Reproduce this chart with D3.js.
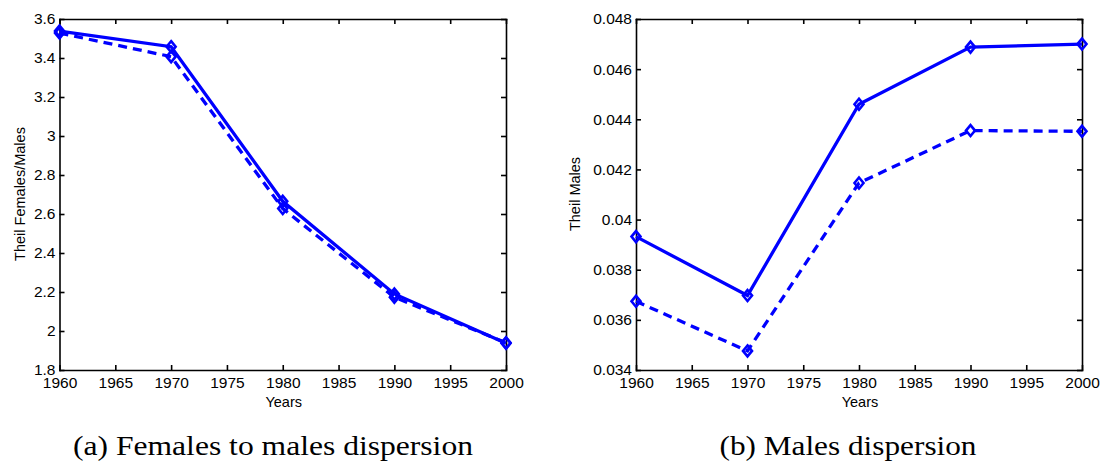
<!DOCTYPE html>
<meta charset="utf-8">
<style>
body { margin: 0; background: #fff; }
svg { display: block; }
.tick text { font-family: 'Liberation Sans', Arial, sans-serif; font-size: 15.5px; fill: #000; }
.axis path, .axis line { stroke: #000; stroke-width: 1.6; }
.lab { font-family: 'Liberation Sans', Arial, sans-serif; font-size: 14.5px; }
.cap { font-family: 'Liberation Serif', 'DejaVu Serif', serif; font-size: 28px; }
.series { fill: none; stroke: #0000ff; stroke-width: 3.3; }
.mark { fill: none; stroke: #0000ff; stroke-width: 2.6; }
</style>
<body>
<div id="chart"></div>
<script src="https://cdn.jsdelivr.net/npm/d3@7"></script>
<script>
var years = [1960, 1970, 1980, 1990, 2000];
var xTicks = [1960, 1965, 1970, 1975, 1980, 1985, 1990, 1995, 2000];

// (a) females to males
var femSolid = [3.538, 3.458, 2.665, 2.19, 1.937];
var femDash = [3.528, 3.407, 2.628, 2.173, 1.94];
var femTicks = [1.8, 2, 2.2, 2.4, 2.6, 2.8, 3, 3.2, 3.4, 3.6];

// (b) males
var maleSolid = [0.03932, 0.03697, 0.04460, 0.04688, 0.04700];
var maleDash = [0.03674, 0.03476, 0.04146, 0.04355, 0.04352];
var maleTicks = [0.034, 0.036, 0.038, 0.04, 0.042, 0.044, 0.046, 0.048];

var svg = d3.select('#chart')
            .append('svg')
            .attr('width', 1102)
            .attr('height', 464)

function panel(opt) {
  var x = d3.scaleLinear().domain([1960, 2000]).range([opt.left, opt.right]);
  var y = d3.scaleLinear().domain(opt.ydom).range([370, 19]);
  var g = svg.append('g');

  g.append('g').attr('class', 'axis')
    .attr('transform', 'translate(0,370)')
    .call(d3.axisBottom(x).tickValues(xTicks).tickFormat(d3.format('d'))
      .tickSizeInner(-5).tickSizeOuter(0).tickPadding(7));
  g.append('g').attr('class', 'axis')
    .attr('transform', 'translate(0,19)')
    .call(d3.axisTop(x).tickValues(xTicks).tickFormat('')
      .tickSizeInner(-5).tickSizeOuter(0));
  g.append('g').attr('class', 'axis')
    .attr('transform', 'translate(' + opt.left + ',0)')
    .call(d3.axisLeft(y).tickValues(opt.ticks).tickFormat(opt.fmt)
      .tickSizeInner(-5).tickSizeOuter(0).tickPadding(4));
  g.append('g').attr('class', 'axis')
    .attr('transform', 'translate(' + opt.right + ',0)')
    .call(d3.axisRight(y).tickValues(opt.ticks).tickFormat('')
      .tickSizeInner(-5).tickSizeOuter(0));
  g.selectAll('.domain').attr('stroke-linecap', 'square');

  var line = d3.line()
    .x(function(d, i) { return x(years[i]); })
    .y(function(d) { return y(d); });

  [[opt.dash, '9,6'], [opt.solid, null]].forEach(function(s) {
    g.append('path')
      .datum(s[0])
      .attr('class', 'series')
      .attr('stroke-dasharray', s[1])
      .attr('d', line);
    g.selectAll(null)
      .data(s[0])
      .enter().append('path')
      .attr('class', 'mark')
      .attr('transform', function(d, i) { return 'translate(' + x(years[i]) + ',' + y(d) + ')'; })
      .attr('d', 'M0,-5.5L4.5,0L0,5.5L-4.5,0Z');
  });

  g.append('text')
    .attr('class', 'lab')
    .attr('x', (opt.left + opt.right) / 2 + 1)
    .attr('y', 407)
    .attr('text-anchor', 'middle')
    .text('Years');

  g.append('text')
    .attr('class', 'lab')
    .attr('transform', 'translate(' + opt.ylabX + ',194) rotate(-90)')
    .attr('text-anchor', 'middle')
    .text(opt.ylabel);

  g.append('text')
    .attr('class', 'cap')
    .attr('x', opt.capX)
    .attr('y', 455)
    .attr('text-anchor', 'middle')
    .attr('textLength', opt.capW)
    .attr('lengthAdjust', 'spacingAndGlyphs')
    .text(opt.caption);
}

panel({
  left: 59.5, right: 506, ydom: [1.8, 3.6], ticks: femTicks,
  fmt: function(d) { return d3.format('')(+d.toFixed(1)); },
  solid: femSolid, dash: femDash,
  ylabel: 'Theil Females/Males', ylabX: 25,
  caption: '(a) Females to males dispersion', capX: 273, capW: 400
});

panel({
  left: 636, right: 1082, ydom: [0.034, 0.048], ticks: maleTicks,
  fmt: function(d) { return d3.format('')(+d.toFixed(3)); },
  solid: maleSolid, dash: maleDash,
  ylabel: 'Theil Males', ylabX: 580,
  caption: '(b) Males dispersion', capX: 848, capW: 257
});
</script>
</body>
